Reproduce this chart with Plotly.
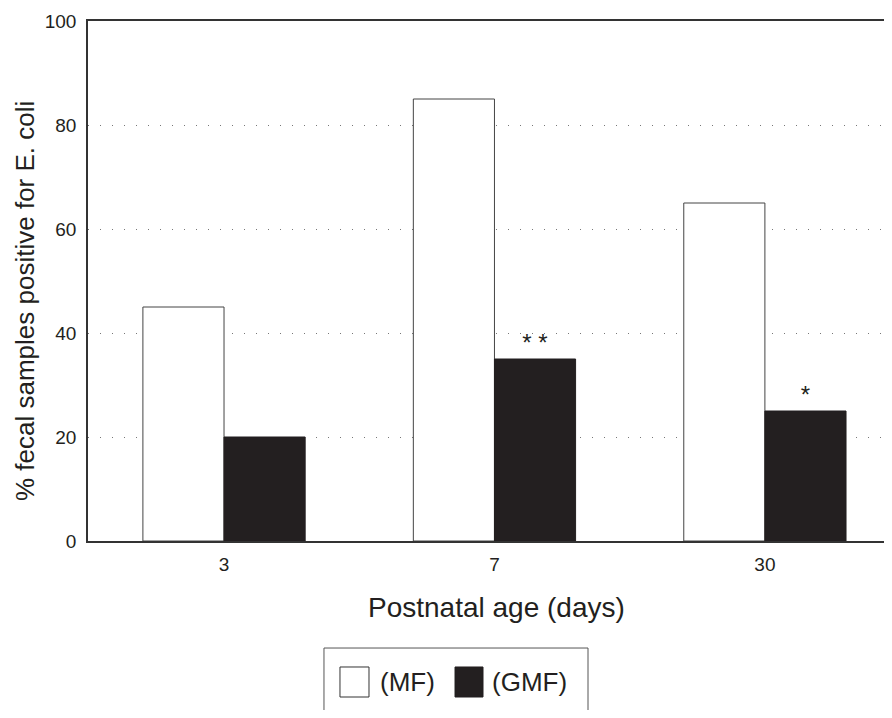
import plotly.graph_objects as go

ages = ["3", "7", "30"]
mf_values = [45, 85, 65]
gmf_values = [20, 35, 25]
gmf_marks = ["", "* *", "*"]
y_ticks = [0, 20, 40, 60, 80, 100]

FONT = "Liberation Sans, Arial, Helvetica, sans-serif"
INK = "#231f20"
xpos = list(range(len(ages)))

fig = go.Figure()
fig.add_trace(go.Bar(
    x=xpos, y=mf_values, name="(MF)",
    marker=dict(color="white", line=dict(color="#444444", width=1)),
    showlegend=False,
))
fig.add_trace(go.Bar(
    x=xpos, y=gmf_values, name="(GMF)",
    marker=dict(color=INK, line=dict(color=INK, width=1)),
    text=gmf_marks, textposition="outside",
    textfont=dict(size=24, color=INK, family=FONT),
    cliponaxis=False,
    showlegend=False,
))

# page has an 8px body margin; figure is sized/offset to compensate
fig.update_layout(
    width=884, height=702,
    margin=dict(l=80, r=0, t=13, b=169),
    paper_bgcolor="white", plot_bgcolor="white",
    barmode="group", bargap=0.4, bargroupgap=0,
    font=dict(family=FONT, color=INK),
)
fig.update_xaxes(
    range=[-0.503, 2.47],
    tickvals=xpos, ticktext=ages,
    tickfont=dict(size=19), ticks="", ticklabelstandoff=5,
    showline=True, linecolor="#333333", linewidth=1.5, mirror=True,
    showgrid=False, zeroline=False,
)
fig.update_yaxes(
    range=[0, 100],
    tickvals=y_ticks, tickfont=dict(size=19), ticks="", ticklabelstandoff=6,
    showline=True, linecolor="#333333", linewidth=1.5,
    showgrid=True, gridcolor="#777777", griddash="1px,11px", gridwidth=1,
    zeroline=False,
)

# axis titles
fig.add_annotation(xref="paper", yref="paper", x=0.5075, y=-0.127,
                   text="Postnatal age (days)", showarrow=False,
                   xanchor="center", yanchor="middle",
                   font=dict(size=28, family=FONT, color=INK))
fig.add_annotation(xref="paper", yref="paper", x=-0.0784, y=0.4615,
                   text="% fecal samples positive for E. coli", showarrow=False,
                   textangle=-90, xanchor="center", yanchor="middle",
                   font=dict(size=26, family=FONT, color=INK))

# legend box drawn manually
fig.add_shape(type="rect", xref="paper", yref="paper",
              x0=0.2935, x1=0.6219, y0=-0.40, y1=-0.2058,
              line=dict(color="#555555", width=1), fillcolor="white", layer="above")
fig.add_shape(type="rect", xref="paper", yref="paper",
              x0=0.3134, x1=0.3495, y0=-0.300, y1=-0.2423,
              line=dict(color="#333333", width=1), fillcolor="white")
fig.add_shape(type="rect", xref="paper", yref="paper",
              x0=0.4565, x1=0.4913, y0=-0.300, y1=-0.2423,
              line=dict(color=INK, width=1), fillcolor=INK)
fig.add_annotation(xref="paper", yref="paper", x=0.3607, y=-0.271,
                   text="(MF)", showarrow=False, xanchor="left", yanchor="middle",
                   font=dict(size=26, family=FONT, color=INK))
fig.add_annotation(xref="paper", yref="paper", x=0.4995, y=-0.271,
                   text="(GMF)", showarrow=False, xanchor="left", yanchor="middle",
                   font=dict(size=26, family=FONT, color=INK))

fig.write_html("out.html")
